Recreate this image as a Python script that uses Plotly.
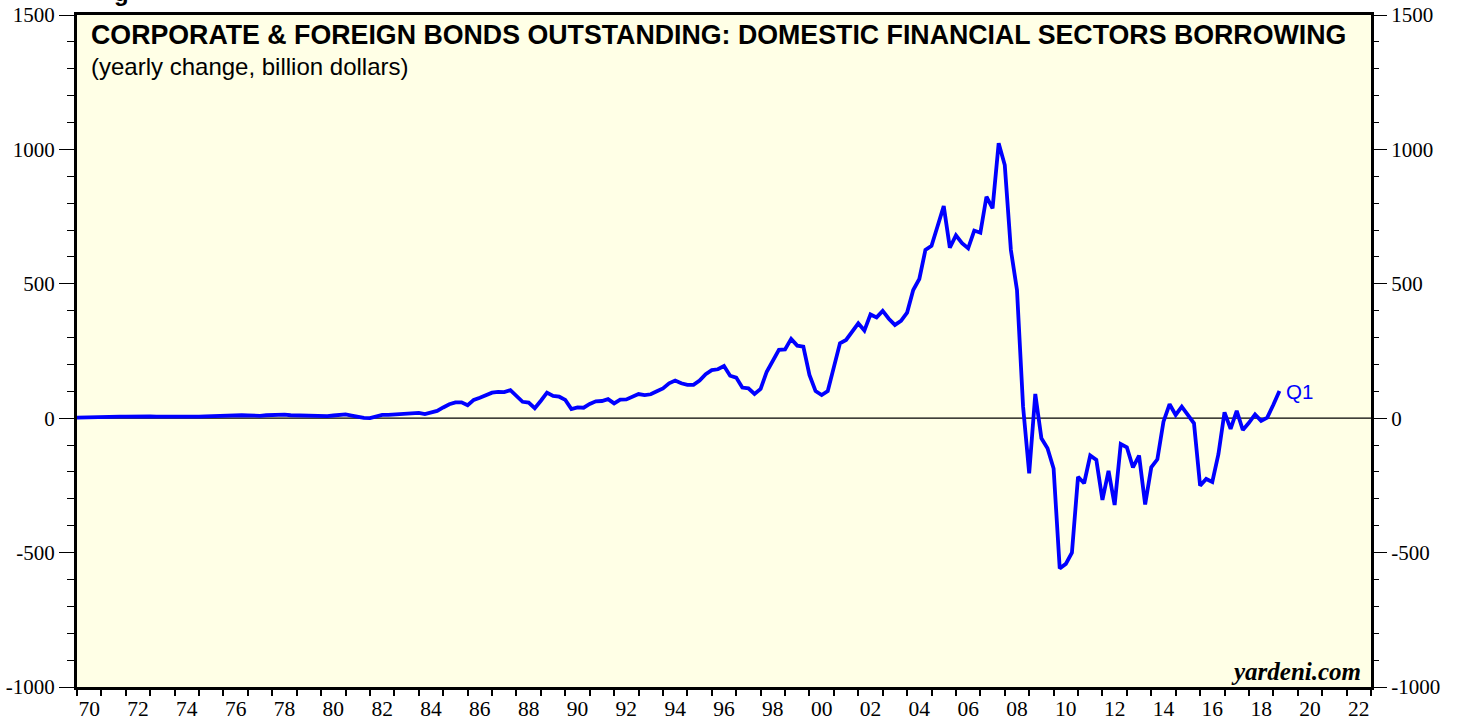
import plotly.graph_objects as go

# Quarterly yearly-change values (billion dollars), starting 1970.0, step 0.25 yr, ending 2019 Q1
start_year = 1970.0
values = [
    2, 3, 3, 4,          # 1970
    4, 5, 5, 6,          # 1971
    6, 7, 7, 7,          # 1972
    7, 6, 6, 6,          # 1973
    5, 4, 3, 5,          # 1974
    6, 7, 8, 8,          # 1975
    9, 9, 10, 11,        # 1976
    10, 8, 9, 11,        # 1977
    12, 14, 13, 11,      # 1978
    10, 9, 8, 7,         # 1979
    7, 8, 10, 13,        # 1980
    14, 10, 4, 1,        # 1981
    0, 5, 12, 12,        # 1982
    14, 16, 18, 20,      # 1983
    20, 15, 20, 27,      # 1984
    40, 52, 59, 59,      # 1985
    48, 68, 76, 85,      # 1986
    95, 98, 97, 104,     # 1987
    80, 61, 58, 37,      # 1988
    65, 95, 83, 80,      # 1989
    68, 34, 40, 39,      # 1990
    53, 63, 64, 71,      # 1991
    55, 69, 70, 80,      # 1992
    90, 86, 89, 100,     # 1993
    111, 130, 140, 130,  # 1994
    124, 124, 140, 164,  # 1995
    179, 182, 194, 158,  # 1996
    151, 114, 111, 90,   # 1997
    109, 173, 215, 254,  # 1998
    256, 295, 270, 266,  # 1999
    161, 101, 86, 101,   # 2000
    190, 279, 291, 325,  # 2001
    353, 326, 386, 375,  # 2002
    399, 370, 347, 362,  # 2003
    393, 477, 518, 626,  # 2004
    641, 715, 789, 634,  # 2005
    680, 651, 632, 698,  # 2006
    690, 824, 781, 1023, # 2007
    942, 626, 477, 43,   # 2008
    -205, 90, -75, -112, # 2009
    -187, -559, -542, -500,  # 2010
    -218, -242, -139, -155,  # 2011
    -304, -196, -323, -96,   # 2012
    -108, -183, -139, -321,  # 2013
    -183, -153, -13, 52,     # 2014
    12, 43, 14, -19,         # 2015
    -251, -226, -237, -134,  # 2016
    22, -40, 27, -44,        # 2017
    -17, 14, -10, 2,         # 2018
    50, 101,                 # 2019
]
x_years = [start_year + 0.25 * i for i in range(len(values))]

tick_years = list(range(1970, 2023, 2))
tick_labels = [f"{y % 100:02d}" for y in tick_years]
y_ticks = [-1000, -500, 0, 500, 1000, 1500]
y_tick_labels = ["-1000", "-500", "0", "500", "1000", "1500"]

title_text = "CORPORATE & FOREIGN BONDS OUTSTANDING: DOMESTIC FINANCIAL SECTORS BORROWING"
subtitle_text = "(yearly change, billion dollars)"

fig = go.Figure()
fig.add_trace(go.Scatter(
    x=x_years, y=values, mode="lines",
    line=dict(color="#0000FF", width=3.8),
    showlegend=False, hoverinfo="skip",
))
fig.add_trace(go.Scatter(x=[None], y=[None], yaxis="y2", showlegend=False, hoverinfo="skip"))

serif = "Liberation Serif, Times New Roman, serif"
sans = "Liberation Sans, Arial, sans-serif"

yaxis_common = dict(
    range=[-1000, 1500], tickvals=y_ticks, ticktext=y_tick_labels,
    ticks="outside", ticklen=15, tickwidth=1, ticklabeloverflow="allow",
    tickcolor="black", showgrid=False, zeroline=False, automargin=False,
    tickfont=dict(family=serif, size=21, color="black"),
    minor=dict(dtick=100, tick0=0, ticks="outside", ticklen=7, tickwidth=1, tickcolor="black", showgrid=False),
)

fig.update_layout(
    width=1460, height=719,
    margin=dict(l=76.5, r=88.5, t=15, b=32),
    paper_bgcolor="white",
    plot_bgcolor="#FFFFE6",
    xaxis=dict(
        range=[1970, 2023], tickvals=[y + 0.5 for y in tick_years], ticktext=tick_labels,
        ticks="", showgrid=False, zeroline=False, automargin=False, ticklabeloverflow="allow",
        showline=True, linecolor="black", linewidth=3, mirror=True,
        tickfont=dict(family=serif, size=21.5, color="black"),
        minor=dict(tickmode="linear", tick0=1970, dtick=1, ticks="outside", ticklen=6, tickwidth=2,
                   tickcolor="black", showgrid=False),
    ),
    yaxis=dict(**yaxis_common, showline=True, linecolor="black", linewidth=3, mirror=True),
    yaxis2=dict(**yaxis_common, overlaying="y", side="right", showline=False),
    shapes=[dict(type="line", xref="paper", x0=0, x1=1, yref="y", y0=0, y1=0,
                 line=dict(color="black", width=1.3), layer="below")],
    annotations=[
        dict(text=f"<b>{title_text}</b>", xref="paper", yref="paper", x=0.0095, y=0.970,
             xanchor="left", yanchor="middle", showarrow=False,
             font=dict(family=sans, size=26.75, color="black")),
        dict(text=subtitle_text, xref="paper", yref="paper", x=0.0095, y=0.924,
             xanchor="left", yanchor="middle", showarrow=False,
             font=dict(family=sans, size=24, color="black")),
        dict(text="<b><i>yardeni.com</i></b>", xref="paper", yref="paper", x=0.9935, y=0.0238,
             xanchor="right", yanchor="middle", showarrow=False,
             font=dict(family=serif, size=25, color="black")),
        dict(text="Q1", xref="x", yref="y", x=x_years[-1], y=values[-1],
             xanchor="left", yanchor="middle", xshift=5, showarrow=False,
             font=dict(family=sans, size=20.5, color="#0000FF")),
        dict(text="<b>g</b>", xref="paper", yref="paper", x=0.027, y=1.0105,
             xanchor="left", yanchor="bottom", showarrow=False,
             font=dict(family=sans, size=24, color="black")),
    ],
)

# Remove the page's default body margin so the figure fills the window exactly.
fig.write_html("out.html", config={"displayModeBar": False},
               post_script="document.body.style.margin='0';")
